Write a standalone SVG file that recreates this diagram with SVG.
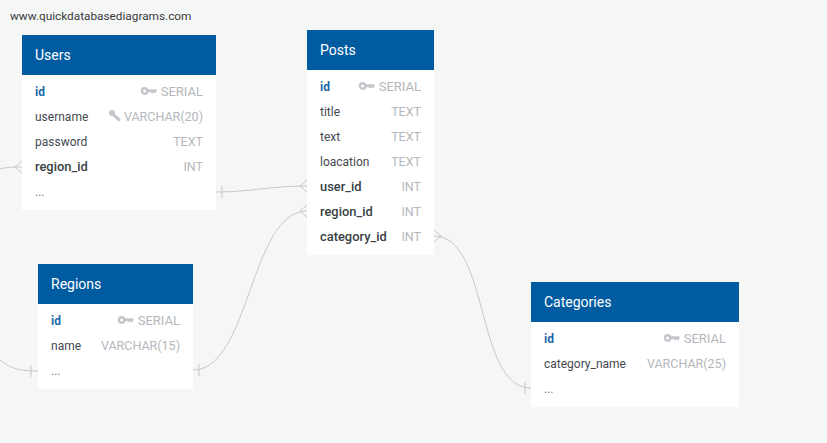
<svg xmlns="http://www.w3.org/2000/svg" width="827" height="443" viewBox="0 0 827 443">
<style>
text{font-family:Roboto,"Liberation Sans",sans-serif;font-size:12px}
.hd{fill:#005ba1}
.bd{fill:#fff}
.t{fill:#fff;font-size:14px}
.pk{fill:#1a67a8;font-weight:700}
.f{fill:#44494f}
.el{fill:#777b80}
.fk{fill:#3a3f45;font-weight:500;font-size:12.9px}
.ty{fill:#b4b7bc;text-anchor:end;font-size:12.5px}
.se{font-size:13px}
.c{fill:none;stroke:#c6c9c8;stroke-width:1}
.ic{fill:#c3c6cb}
</style>
<defs>
<g id="key"><circle cx="3.6" cy="0" r="2.7" fill="none" stroke="#c3c6cb" stroke-width="2.4"/><path class="ic" d="M6 -1.8H15.5V0.6L14 2.4L12.6 1.2L11.2 2.4L9.8 1.2H6Z"/></g>
<g id="wrench"><path d="M2 -3.5L4.5 -1L11 4.5" fill="none" stroke="#c3c6cb" stroke-width="3"/><circle cx="3" cy="-3" r="3" class="ic"/></g>
</defs>
<rect width="827" height="443" fill="#f5f7f7"/>
<text x="10" y="20" fill="#3a3a3a" style="font-size:11.8px">www.quickdatabasediagrams.com</text>
<g id="connectors">
<path class="c" d="M0 169C8 167 12 167 22 167M15 167L22 161M15 167L22 173"/>
<path class="c" d="M216 192C250 192 270 186 307 186M222 186V198M300 186L307 180M300 186L307 192"/>
<path class="c" d="M193 370C250 370 250 211 307 211M199 364V376M300 211L307 205M300 211L307 217"/>
<path class="c" d="M0 360C10 368 18 371 38 371M31 365V377"/>
<path class="c" d="M434 236C490 236 475 388 531 388M441 236L434 230M441 236L434 242M525 382V394"/>
</g>
<g id="users">
<rect class="bd" x="22" y="35" width="194" height="175"/>
<rect class="hd" x="22" y="35" width="194" height="40"/>
<text class="t" x="35" y="60">Users</text>
<text class="pk" x="35" y="96">id</text>
<use href="#key" x="141" y="91"/>
<text class="ty se" x="203" y="96">SERIAL</text>
<text class="f" x="35" y="121">username</text>
<use href="#wrench" x="109" y="116"/>
<text class="ty" x="203" y="121">VARCHAR(20)</text>
<text class="f" x="35" y="146">password</text>
<text class="ty" x="203" y="146">TEXT</text>
<text class="fk" x="35" y="171">region_id</text>
<text class="ty" x="203" y="171">INT</text>
<text class="el" x="35" y="196">...</text>
</g>
<g id="posts">
<rect class="bd" x="307" y="30" width="127" height="225"/>
<rect class="hd" x="307" y="30" width="127" height="40"/>
<text class="t" x="320" y="55">Posts</text>
<text class="pk" x="320" y="91">id</text>
<use href="#key" x="359" y="86"/>
<text class="ty se" x="421" y="91">SERIAL</text>
<text class="f" x="320" y="116">title</text>
<text class="ty" x="421" y="116">TEXT</text>
<text class="f" x="320" y="141">text</text>
<text class="ty" x="421" y="141">TEXT</text>
<text class="f" x="320" y="166">loacation</text>
<text class="ty" x="421" y="166">TEXT</text>
<text class="fk" x="320" y="191">user_id</text>
<text class="ty" x="421" y="191">INT</text>
<text class="fk" x="320" y="216">region_id</text>
<text class="ty" x="421" y="216">INT</text>
<text class="fk" x="320" y="241">category_id</text>
<text class="ty" x="421" y="241">INT</text>
</g>
<g id="regions">
<rect class="bd" x="38" y="264" width="155" height="125"/>
<rect class="hd" x="38" y="264" width="155" height="40"/>
<text class="t" x="51" y="289">Regions</text>
<text class="pk" x="51" y="325">id</text>
<use href="#key" x="118" y="320"/>
<text class="ty se" x="180" y="325">SERIAL</text>
<text class="f" x="51" y="350">name</text>
<text class="ty" x="180" y="350">VARCHAR(15)</text>
<text class="el" x="51" y="375">...</text>
</g>
<g id="categories">
<rect class="bd" x="531" y="282" width="208" height="125"/>
<rect class="hd" x="531" y="282" width="208" height="40"/>
<text class="t" x="544" y="307">Categories</text>
<text class="pk" x="544" y="343">id</text>
<use href="#key" x="664" y="338"/>
<text class="ty se" x="726" y="343">SERIAL</text>
<text class="f" x="544" y="368">category_name</text>
<text class="ty" x="726" y="368">VARCHAR(25)</text>
<text class="el" x="544" y="393">...</text>
</g>
</svg>
